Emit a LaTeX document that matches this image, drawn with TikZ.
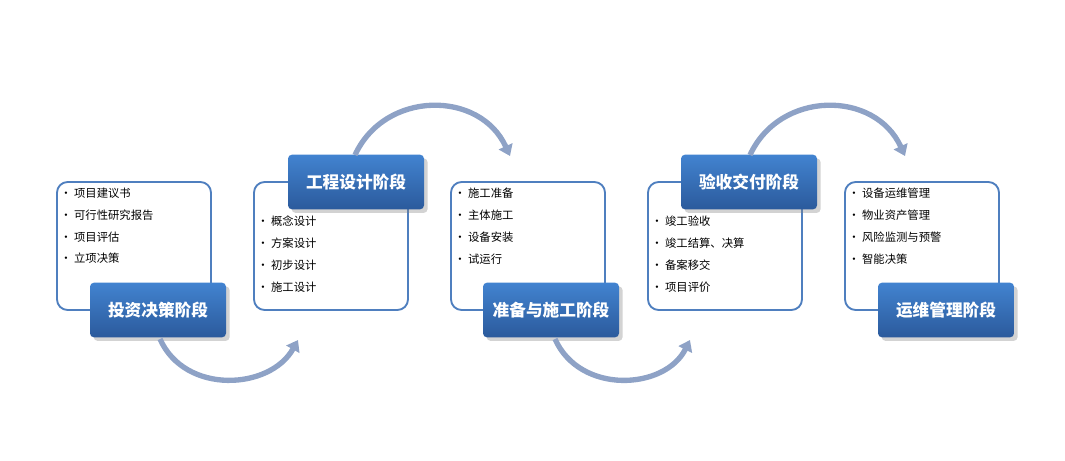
\documentclass[tikz,border=0pt]{standalone}
\usepackage{fontspec}
\setmainfont{Noto Sans CJK SC}
\usetikzlibrary{arrows.meta,shadows}
\definecolor{frameblue}{HTML}{4F7FBF}
\definecolor{arcblue}{HTML}{8EA2C6}
\definecolor{toptitle}{HTML}{4283D0}
\definecolor{bottitle}{HTML}{2B5A9C}
\tikzset{
	listbox/.style={draw=frameblue, line width=1.4pt, rounded corners=8pt, fill=white,
		minimum width=115.5pt, minimum height=96pt},
	stage/.style={rounded corners=3pt, top color=toptitle, bottom color=bottitle,
		text=white, font=\fontsize{12.5}{14}\selectfont\bfseries,
		minimum width=102pt, minimum height=41pt, drop shadow={opacity=0.35}},
	items/.style={anchor=north west, align=left, font=\fontsize{8.5}{16.3}\selectfont, inner sep=0pt},
	flow/.style={draw=arcblue, line width=4pt, -{Triangle[length=8pt,width=11pt]}}
}
\begin{document}
\begin{tikzpicture}[x=0.75pt, y=-0.75pt]
\useasboundingbox (0,0) rectangle (1065,461);

\node[listbox] (box1) at (134,246) {};
\node[listbox] (box2) at (331,246) {};
\node[listbox] (box3) at (528,246) {};
\node[listbox] (box4) at (725,246) {};
\node[listbox] (box5) at (922,246) {};

\node[items] (list1) at (60,188) {• 项目建议书\\• 可行性研究报告\\• 项目评估\\• 立项决策};
\node[items] (list2) at (257,216) {• 概念设计\\• 方案设计\\• 初步设计\\• 施工设计};
\node[items] (list3) at (454,188) {• 施工准备\\• 主体施工\\• 设备安装\\• 试运行};
\node[items] (list4) at (651,216) {• 竣工验收\\• 竣工结算、决算\\• 备案移交\\• 项目评价};
\node[items] (list5) at (848,188) {• 设备运维管理\\• 物业资产管理\\• 风险监测与预警\\• 智能决策};

\node[stage] (stage1) at (158,310) {投资决策阶段};
\node[stage] (stage2) at (356,182) {工程设计阶段};
\node[stage] (stage3) at (551,310) {准备与施工阶段};
\node[stage] (stage4) at (749,182) {验收交付阶段};
\node[stage] (stage5) at (946,310) {运维管理阶段};

% curved transitions
\coordinate (a1) at (160,339);
\coordinate (b1) at (298,340);
\coordinate (a2) at (355,155);
\coordinate (b2) at (510,156);
\coordinate (a3) at (555,339);
\coordinate (b3) at (690,340);
\coordinate (a4) at (750,155);
\coordinate (b4) at (905,156);

\draw[flow] (a1) .. controls (185,395) and (270,390) .. (b1);
\draw[flow] (a2) .. controls (385,90) and (480,90) .. (b2);
\draw[flow] (a3) .. controls (580,395) and (665,390) .. (b3);
\draw[flow] (a4) .. controls (780,90) and (875,90) .. (b4);

\end{tikzpicture}
\end{document}
